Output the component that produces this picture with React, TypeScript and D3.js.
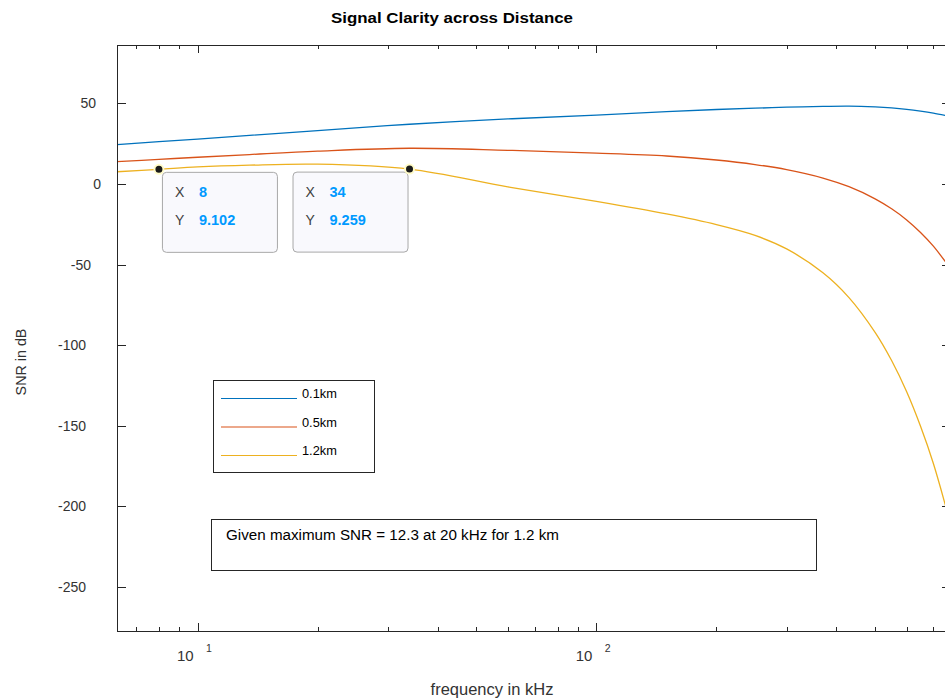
import React, { useEffect, useRef } from 'react';
import * as d3 from 'd3';

// frequency samples in kHz (log axis)
const freqs = [6.28, 8, 10, 13.5, 20, 34, 60, 100, 150, 200, 250, 300, 370, 430, 500, 550, 600, 650, 700, 775];

// SNR in dB for each distance
const snr01 = [24.4, 26.3, 27.9, 30.2, 33.2, 37.1, 40.4, 42.8, 45.0, 46.25, 47.06, 47.68, 48.17, 48.36, 47.86, 47.24, 46.37, 45.26, 44.0, 41.84];
const snr05 = [13.9, 15.3, 16.6, 18.3, 20.4, 22.2, 20.9, 19.2, 17.4, 14.9, 12.1, 8.94, 3.72, -1.68, -9.2, -15.4, -22.3, -30.1, -38.6, -53.0];
const snr12 = [7.6, 9.102, 10.6, 11.7, 12.3, 9.259, -1.8, -10.8, -18.6, -25.2, -31.9, -40.3, -55.1, -70.5, -92.1, -109.6, -129.0, -150.4, -173.5, -212.2];

const seriesNames = ['0.1km', '0.5km', '1.2km'];
const seriesColors = ['#0072BD', '#D95319', '#EDB120'];

const yTicks = [-250, -200, -150, -100, -50, 0, 50];

// data tips on the 1.2km curve
const tipX = [8, 34];
const tipY = [9.102, 9.259];

const noteText = 'Given maximum SNR = 12.3 at 20 kHz for 1.2 km';
const font = '"Liberation Sans", Arial, Helvetica, sans-serif';
const axisColor = '#262626';

export default function App() {
  const ref = useRef<SVGSVGElement>(null);

  useEffect(() => {
    const svg = d3.select(ref.current);
    svg.selectAll('*').remove();

    const left = 117, top = 45, right = 951, bottom = 631;

    const x = d3.scaleLog().domain([6.28, 775]).range([left, right]);
    const y = d3.scaleLinear().domain([-277.5, 86.3]).range([bottom, top]);

    svg.append('rect').attr('width', 945).attr('height', 700).attr('fill', '#fff');

    // title
    svg.append('text')
      .attr('x', 452).attr('y', 23)
      .attr('text-anchor', 'middle')
      .attr('font-family', font).attr('font-size', 14.5).attr('font-weight', 'bold')
      .attr('textLength', 242).attr('lengthAdjust', 'spacingAndGlyphs')
      .attr('fill', '#000')
      .text('Signal Clarity across Distance');

    // clip for the curves
    svg.append('clipPath').attr('id', 'plotclip')
      .append('rect').attr('x', left).attr('y', top).attr('width', right - left).attr('height', bottom - top);

    const line = d3.line<number>()
      .x((d, i) => x(freqs[i]))
      .y(d => y(d))
      .curve(d3.curveCatmullRom.alpha(0.5));

    const allSeries = [snr01, snr05, snr12];
    const plot = svg.append('g').attr('clip-path', 'url(#plotclip)');
    allSeries.forEach((s, k) => {
      plot.append('path')
        .attr('d', line(s))
        .attr('fill', 'none')
        .attr('stroke', seriesColors[k])
        .attr('stroke-width', 1.3);
    });

    // axes box
    const ax = svg.append('g').attr('stroke', axisColor).attr('stroke-width', 1).attr('shape-rendering', 'crispEdges');
    ax.append('line').attr('x1', left).attr('x2', right).attr('y1', top + 0.5).attr('y2', top + 0.5);
    ax.append('line').attr('x1', left).attr('x2', right).attr('y1', bottom + 0.5).attr('y2', bottom + 0.5);
    ax.append('line').attr('x1', left + 0.5).attr('x2', left + 0.5).attr('y1', top).attr('y2', bottom + 1);
    ax.append('line').attr('x1', right + 0.5).attr('x2', right + 0.5).attr('y1', top).attr('y2', bottom + 1);

    // x ticks (inward, top and bottom)
    const xt = x.ticks().filter(v => v >= 6.28 && v <= 775);
    xt.forEach(v => {
      const major = Math.abs(Math.log10(v) - Math.round(Math.log10(v))) < 1e-9;
      const len = major ? 8 : 4;
      const px = Math.round(x(v)) + 0.5;
      ax.append('line').attr('x1', px).attr('x2', px).attr('y1', bottom).attr('y2', bottom - len);
      ax.append('line').attr('x1', px).attr('x2', px).attr('y1', top).attr('y2', top + len);
      if (major) {
        svg.append('text')
          .attr('x', x(v) - 4).attr('y', 661)
          .attr('text-anchor', 'end')
          .attr('font-family', font).attr('font-size', 15).attr('fill', '#333')
          .text('10');
        svg.append('text')
          .attr('x', x(v) + 8.5).attr('y', 652)
          .attr('font-family', font).attr('font-size', 10.5).attr('fill', '#333')
          .text(String(Math.round(Math.log10(v))));
      }
    });

    // y ticks (inward, left and right)
    yTicks.forEach(v => {
      const py = Math.round(y(v)) + 0.5;
      ax.append('line').attr('x1', left).attr('x2', left + 9).attr('y1', py).attr('y2', py);
      ax.append('line').attr('x1', right - 9).attr('x2', right).attr('y1', py).attr('y2', py);
      const label = String(v);
      svg.append('text')
        .attr('x', 101 - 5 * (label.length - 1)).attr('y', y(v) + 5)
        .attr('text-anchor', 'end')
        .attr('font-family', font).attr('font-size', 14).attr('fill', '#333')
        .text(label);
    });

    // axis labels
    svg.append('text')
      .attr('x', 492).attr('y', 695)
      .attr('text-anchor', 'middle')
      .attr('font-family', font).attr('font-size', 16.5).attr('fill', '#333')
      .text('frequency in kHz');
    svg.append('text')
      .attr('transform', 'translate(26,362) rotate(-90)')
      .attr('text-anchor', 'middle')
      .attr('font-family', font).attr('font-size', 14.3).attr('fill', '#333')
      .text('SNR in dB');

    // data tips
    tipX.forEach((fx, i) => {
      const mx = x(fx), my = y(tipY[i]);
      const bw = 115, bh = 80;
      const bx = i === 0 ? mx + 3 : mx - 2 - bw;
      const by = my + 2.5;
      const g = svg.append('g');
      g.append('rect')
        .attr('x', bx + 0.5).attr('y', by + 0.5).attr('width', bw).attr('height', bh)
        .attr('rx', 4)
        .attr('fill', '#f9f9fd').attr('stroke', '#a8a8a8').attr('stroke-width', 1);
      g.append('text')
        .attr('x', bx + 13).attr('y', by + 25)
        .attr('font-family', font).attr('font-size', 14).attr('fill', '#404040')
        .text('X');
      g.append('text')
        .attr('x', bx + 37).attr('y', by + 25)
        .attr('font-family', font).attr('font-size', 14.5).attr('font-weight', 'bold').attr('fill', '#0099ff')
        .text(String(fx));
      g.append('text')
        .attr('x', bx + 13).attr('y', by + 53)
        .attr('font-family', font).attr('font-size', 14).attr('fill', '#404040')
        .text('Y');
      g.append('text')
        .attr('x', bx + 37).attr('y', by + 53)
        .attr('font-family', font).attr('font-size', 14.5).attr('font-weight', 'bold').attr('fill', '#0099ff')
        .text(tipY[i].toFixed(3));
      svg.append('circle')
        .attr('cx', mx).attr('cy', my).attr('r', 4.5)
        .attr('fill', '#1a1a1a').attr('stroke', '#fffbc8').attr('stroke-width', 2);
    });

    // legend
    const lg = svg.append('g');
    lg.append('rect')
      .attr('x', 213.5).attr('y', 380.5).attr('width', 161).attr('height', 92)
      .attr('fill', '#fff').attr('stroke', axisColor).attr('stroke-width', 1);
    seriesNames.forEach((name, k) => {
      const ly = 398.5 + k * 28.5;
      lg.append('line')
        .attr('x1', 221).attr('x2', 297).attr('y1', ly).attr('y2', ly)
        .attr('stroke', seriesColors[k]).attr('stroke-width', 1.2);
      lg.append('text')
        .attr('x', 302).attr('y', ly - 0.5)
        .attr('font-family', font).attr('font-size', 12.8).attr('fill', '#000')
        .text(name);
    });

    // annotation box
    svg.append('rect')
      .attr('x', 211.5).attr('y', 519.5).attr('width', 605).attr('height', 51)
      .attr('fill', '#fff').attr('stroke', axisColor).attr('stroke-width', 1);
    svg.append('text')
      .attr('x', 226).attr('y', 539.5)
      .attr('font-family', font).attr('font-size', 15.2).attr('fill', '#000')
      .text(noteText);
  }, []);

  return (
    <svg
      ref={ref}
      width={945}
      height={700}
      style={{ position: 'absolute', left: 0, top: 0, display: 'block' }}
    />
  );
}
